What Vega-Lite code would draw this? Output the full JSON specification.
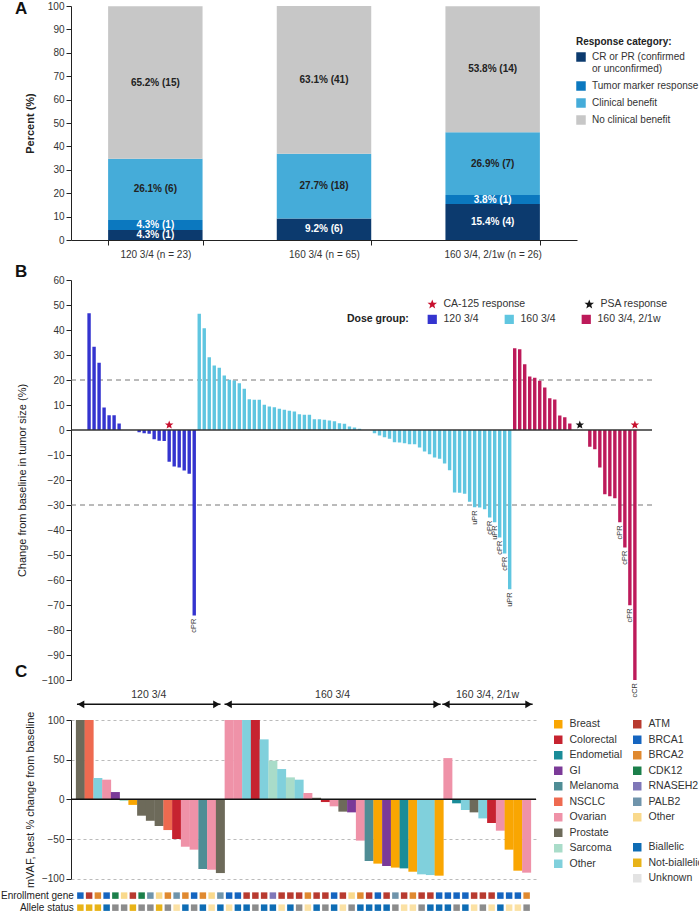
{
  "$schema": "https://vega.github.io/schema/vega-lite/v6.json",
  "background": "white",
  "padding": {"left": 0, "top": 0, "right": 0, "bottom": 0},
  "bounds": "flush",
  "spacing": 40,
  "config": {
    "font": "Liberation Sans",
    "view": {"stroke": null},
    "axis": {"labelFontSize": 10, "labelColor": "#333", "titleFontSize": 11, "titleColor": "#222", "titleFontWeight": "normal", "domainColor": "#222", "tickColor": "#222", "tickSize": 5, "grid": false, "labelOverlap": false},
    "legend": {"labelFontSize": 10, "labelColor": "#333", "titleFontSize": 10, "titleColor": "#222", "symbolStrokeWidth": 0, "symbolType": "square"},
    "title": {"fontSize": 17, "fontWeight": "bold", "color": "#111"}
  },
  "vconcat": [
    {
      "width": 506,
      "height": 234,
      "title": {"text": "A", "anchor": "start", "frame": "group", "dx": -56, "offset": 0, "dy": 17, "baseline": "top"},
      "data": {"values": [
        {"dose": "120 3/4 (n = 23)", "cat": "CR or PR (confirmed or unconfirmed)", "k": 1, "pct": 4.3, "label": "4.3% (1)"},
        {"dose": "120 3/4 (n = 23)", "cat": "Tumor marker response", "k": 2, "pct": 4.3, "label": "4.3% (1)"},
        {"dose": "120 3/4 (n = 23)", "cat": "Clinical benefit", "k": 3, "pct": 26.1, "label": "26.1% (6)"},
        {"dose": "120 3/4 (n = 23)", "cat": "No clinical benefit", "k": 4, "pct": 65.2, "label": "65.2% (15)"},
        {"dose": "160 3/4 (n = 65)", "cat": "CR or PR (confirmed or unconfirmed)", "k": 1, "pct": 9.2, "label": "9.2% (6)"},
        {"dose": "160 3/4 (n = 65)", "cat": "Tumor marker response", "k": 2, "pct": 0, "label": ""},
        {"dose": "160 3/4 (n = 65)", "cat": "Clinical benefit", "k": 3, "pct": 27.7, "label": "27.7% (18)"},
        {"dose": "160 3/4 (n = 65)", "cat": "No clinical benefit", "k": 4, "pct": 63.1, "label": "63.1% (41)"},
        {"dose": "160 3/4, 2/1w (n = 26)", "cat": "CR or PR (confirmed or unconfirmed)", "k": 1, "pct": 15.4, "label": "15.4% (4)"},
        {"dose": "160 3/4, 2/1w (n = 26)", "cat": "Tumor marker response", "k": 2, "pct": 3.8, "label": "3.8% (1)"},
        {"dose": "160 3/4, 2/1w (n = 26)", "cat": "Clinical benefit", "k": 3, "pct": 26.9, "label": "26.9% (7)"},
        {"dose": "160 3/4, 2/1w (n = 26)", "cat": "No clinical benefit", "k": 4, "pct": 53.8, "label": "53.8% (14)"}
      ]},
      "transform": [
        {"stack": "pct", "groupby": ["dose"], "sort": [{"field": "k", "order": "ascending"}], "as": ["y0", "y1"]},
        {"calculate": "(datum.y0 + datum.y1) / 2", "as": "ymid"}
      ],
      "layer": [
        {
          "mark": {"type": "bar"},
          "encoding": {
            "x": {"field": "dose", "type": "nominal", "sort": ["120 3/4 (n = 23)", "160 3/4 (n = 65)", "160 3/4, 2/1w (n = 26)"], "scale": {"paddingInner": 0.44, "paddingOuter": 0.22}, "axis": {"title": null, "labelAngle": 0, "tickBand": "extent", "labelPadding": 4}},
            "y": {"field": "y0", "type": "quantitative", "scale": {"domain": [0, 100], "nice": false}, "title": "Percent (%)", "axis": {"values": [0, 10, 20, 30, 40, 50, 60, 70, 80, 90, 100], "titleFontWeight": "bold", "titlePadding": 12}},
            "y2": {"field": "y1"},
            "color": {"field": "cat", "type": "nominal", "scale": {"domain": ["CR or PR (confirmed or unconfirmed)", "Tumor marker response", "Clinical benefit", "No clinical benefit"], "range": ["#0c3a6e", "#0b78bf", "#45acd9", "#c7c7c7"]},
              "legend": {"orient": "none", "legendX": 505, "legendY": 31, "title": "Response category:", "titleFontWeight": "bold", "symbolSize": 90, "rowPadding": 7, "labelOffset": 6, "labelExpr": "datum.label === 'CR or PR (confirmed or unconfirmed)' ? ['CR or PR (confirmed', 'or unconfirmed)'] : datum.label"}}
          }
        },
        {
          "transform": [{"filter": "datum.pct > 0"}],
          "mark": {"type": "text", "fontWeight": "bold", "fontSize": 10},
          "encoding": {
            "x": {"field": "dose", "type": "nominal", "sort": ["120 3/4 (n = 23)", "160 3/4 (n = 65)", "160 3/4, 2/1w (n = 26)"], "axis": {"title": null, "labelAngle": 0, "tickBand": "extent", "labelPadding": 4}},
            "y": {"field": "ymid", "type": "quantitative", "title": "Percent (%)", "axis": {"values": [0, 10, 20, 30, 40, 50, 60, 70, 80, 90, 100], "titleFontWeight": "bold", "titlePadding": 12}},
            "text": {"field": "label"},
            "color": {"condition": {"test": "datum.k <= 2", "value": "white"}, "value": "#222"}
          }
        }
      ]
    },
    {
      "width": 581,
      "height": 400,
      "title": {"text": "B", "anchor": "start", "frame": "group", "dx": -56, "offset": 0, "dy": 6, "baseline": "top"},
      "layer": [
        {
          "data": {"values": [{"ref": 20}, {"ref": -30}]},
          "mark": {"type": "rule", "strokeDash": [5, 4], "color": "#777", "strokeWidth": 1},
          "encoding": {"y": {"field": "ref", "type": "quantitative", "title": "Change from baseline in tumor size (%)", "axis": {"values": [-100, -90, -80, -70, -60, -50, -40, -30, -20, -10, 0, 10, 20, 30, 40, 50, 60], "titlePadding": 14}}}
        },
        {
          "data": {"name": "tumor"},
          "mark": {"type": "bar", "size": 3.4, "orient": "vertical"},
          "encoding": {
            "x": {"field": "slot", "type": "quantitative", "scale": {"domain": [-1.61, 112.42], "nice": false, "zero": false}, "axis": null},
            "y": {"field": "change", "type": "quantitative", "scale": {"domain": [-100, 60], "nice": false}, "title": "Change from baseline in tumor size (%)", "axis": {"values": [-100, -90, -80, -70, -60, -50, -40, -30, -20, -10, 0, 10, 20, 30, 40, 50, 60], "titlePadding": 14}},
            "color": {"field": "dose", "type": "nominal", "scale": {"domain": ["120 3/4", "160 3/4", "160 3/4, 2/1w"], "range": ["#3434cf", "#60c6e0", "#bd1a5a"]},
              "legend": {"orient": "none", "legendX": 276, "legendY": 34, "direction": "horizontal", "title": "Dose group:", "titleOrient": "left", "titleFontWeight": "bold", "titleFontSize": 10.5, "labelFontSize": 10.5, "titlePadding": 18, "symbolSize": 85, "columnPadding": 25, "labelOffset": 6}}
          }
        },
        {
          "data": {"name": "tumor"},
          "transform": [{"filter": "isValid(datum.label)"}],
          "mark": {"type": "text", "angle": 270, "align": "right", "baseline": "middle", "dx": -3, "fontSize": 7.5, "color": "#333"},
          "encoding": {
            "x": {"field": "slot", "type": "quantitative", "axis": null},
            "y": {"field": "change", "type": "quantitative", "title": "Change from baseline in tumor size (%)", "axis": {"values": [-100, -90, -80, -70, -60, -50, -40, -30, -20, -10, 0, 10, 20, 30, 40, 50, 60], "titlePadding": 14}},
            "text": {"field": "label"}
          }
        },
        {
          "data": {"values": [{"ref": 0}]},
          "mark": {"type": "rule", "color": "#333", "strokeWidth": 1.5},
          "encoding": {"y": {"field": "ref", "type": "quantitative", "title": "Change from baseline in tumor size (%)", "axis": {"values": [-100, -90, -80, -70, -60, -50, -40, -30, -20, -10, 0, 10, 20, 30, 40, 50, 60], "titlePadding": 14}}}
        },
        {
          "data": {"values": [
            {"slot": 17, "marker": "CA-125 response"},
            {"slot": 99, "marker": "PSA response"},
            {"slot": 110, "marker": "CA-125 response"}
          ]},
          "mark": {"type": "point", "shape": "M0,-1L0.247,-0.34L0.951,-0.309L0.399,0.13L0.588,0.809L0,0.42L-0.588,0.809L-0.399,0.13L-0.951,-0.309L-0.247,-0.34Z", "filled": true, "size": 80, "opacity": 1},
          "encoding": {
            "x": {"field": "slot", "type": "quantitative", "axis": null},
            "y": {"datum": 2, "type": "quantitative", "title": "Change from baseline in tumor size (%)", "axis": {"values": [-100, -90, -80, -70, -60, -50, -40, -30, -20, -10, 0, 10, 20, 30, 40, 50, 60], "titlePadding": 14}},
            "color": {"field": "marker", "type": "nominal", "scale": {"domain": ["CA-125 response", "PSA response"], "range": ["#c8102e", "#151515"]},
              "legend": {"orient": "none", "legendX": 356, "legendY": 19, "direction": "horizontal", "title": null, "symbolType": "M0,-1L0.247,-0.34L0.951,-0.309L0.399,0.13L0.588,0.809L0,0.42L-0.588,0.809L-0.399,0.13L-0.951,-0.309L-0.247,-0.34Z", "symbolSize": 100, "labelFontSize": 10.5, "columnPadding": 58, "labelOffset": 6}}
          }
        }
      ],
      "resolve": {"scale": {"color": "independent"}}
    },
    {
      "width": 465,
      "height": 158.7,
      "title": {"text": "C", "anchor": "start", "frame": "group", "dx": -56, "offset": 0, "dy": -9, "baseline": "top"},
      "layer": [
        {
          "data": {"name": "mvaf"},
          "mark": {"type": "bar", "size": 9, "orient": "vertical"},
          "encoding": {
            "x": {"field": "slot", "type": "quantitative", "scale": {"domain": [0.5, 52.5], "nice": false, "zero": false}, "axis": null},
            "y": {"field": "value", "type": "quantitative", "scale": {"domain": [-100, 100], "nice": false}, "title": "mVAF, best % change from baseline", "axis": {"values": [-100, -50, 0, 50, 100], "grid": true, "gridDash": [3, 3], "gridColor": "#bbb", "titlePadding": 6}},
            "color": {"field": "cancer", "type": "nominal", "scale": {"domain": ["Breast", "Colorectal", "Endometial", "GI", "Melanoma", "NSCLC", "Ovarian", "Prostate", "Sarcoma", "Other"], "range": ["#f9a602", "#c62330", "#1a8c98", "#7b3a98", "#4f8d95", "#ee6a50", "#ef92a8", "#6d6a5a", "#a9dcc9", "#80d0dc"]},
              "legend": {"orient": "none", "legendX": 482, "legendY": -1, "title": null, "symbolSize": 72, "labelFontSize": 10.5, "rowPadding": 4.5, "labelOffset": 6}}
          }
        },
        {
          "data": {"values": [{"ref": 0}]},
          "mark": {"type": "rule", "color": "#111", "strokeWidth": 1.5},
          "encoding": {"y": {"field": "ref", "type": "quantitative", "title": "mVAF, best % change from baseline", "axis": {"values": [-100, -50, 0, 50, 100], "grid": true, "gridDash": [3, 3], "gridColor": "#bbb", "titlePadding": 6}}}
        },
        {
          "data": {"name": "arrows"},
          "mark": {"type": "rule", "color": "#111", "strokeWidth": 1.5},
          "encoding": {
            "x": {"field": "start", "type": "quantitative", "axis": null},
            "x2": {"field": "end"},
            "y": {"datum": 119.7, "type": "quantitative", "title": "mVAF, best % change from baseline", "axis": {"values": [-100, -50, 0, 50, 100], "grid": true, "gridDash": [3, 3], "gridColor": "#bbb", "titlePadding": 6}}
          }
        },
        {
          "data": {"name": "arrows"},
          "mark": {"type": "point", "shape": "triangle-left", "filled": true, "size": 60, "color": "#111", "opacity": 1, "xOffset": 4},
          "encoding": {
            "x": {"field": "start", "type": "quantitative", "axis": null},
            "y": {"datum": 119.7, "type": "quantitative", "title": "mVAF, best % change from baseline", "axis": {"values": [-100, -50, 0, 50, 100], "grid": true, "gridDash": [3, 3], "gridColor": "#bbb", "titlePadding": 6}}
          }
        },
        {
          "data": {"name": "arrows"},
          "mark": {"type": "point", "shape": "triangle-right", "filled": true, "size": 60, "color": "#111", "opacity": 1, "xOffset": -4},
          "encoding": {
            "x": {"field": "end", "type": "quantitative", "axis": null},
            "y": {"datum": 119.7, "type": "quantitative", "title": "mVAF, best % change from baseline", "axis": {"values": [-100, -50, 0, 50, 100], "grid": true, "gridDash": [3, 3], "gridColor": "#bbb", "titlePadding": 6}}
          }
        },
        {
          "data": {"name": "arrows"},
          "transform": [
            {"fold": ["start", "end"], "as": ["edge", "pos"]},
            {"aggregate": [{"op": "mean", "field": "pos", "as": "mid"}], "groupby": ["group"]}
          ],
          "mark": {"type": "text", "fontSize": 10.5, "color": "#333", "baseline": "middle"},
          "encoding": {
            "x": {"field": "mid", "type": "quantitative", "axis": null},
            "y": {"datum": 131, "type": "quantitative", "title": "mVAF, best % change from baseline", "axis": {"values": [-100, -50, 0, 50, 100], "grid": true, "gridDash": [3, 3], "gridColor": "#bbb", "titlePadding": 6}},
            "text": {"field": "group"}
          }
        },
        {
          "data": {"name": "mvaf"},
          "mark": {"type": "square", "size": 42, "filled": true, "opacity": 1},
          "encoding": {
            "x": {"field": "slot", "type": "quantitative", "axis": null},
            "y": {"datum": -121.3, "type": "quantitative", "title": "mVAF, best % change from baseline", "axis": {"values": [-100, -50, 0, 50, 100], "grid": true, "gridDash": [3, 3], "gridColor": "#bbb", "titlePadding": 6}},
            "color": {"field": "gene", "type": "nominal", "scale": {"domain": ["ATM", "BRCA1", "BRCA2", "CDK12", "RNASEH2", "PALB2", "Other"], "range": ["#b83a2f", "#1565c0", "#e0892f", "#1b7f4a", "#7f77b8", "#6f94ab", "#f9d98c"]},
              "legend": {"orient": "none", "legendX": 561, "legendY": -1, "title": null, "symbolSize": 72, "labelFontSize": 10.5, "rowPadding": 4.5, "labelOffset": 6,
                "encode": {"labels": {"update": {"fontStyle": {"signal": "datum.label === 'Other' ? 'normal' : 'italic'"}}}}}}
          }
        },
        {
          "data": {"name": "mvaf"},
          "mark": {"type": "square", "size": 42, "filled": true, "opacity": 1},
          "encoding": {
            "x": {"field": "slot", "type": "quantitative", "axis": null},
            "y": {"datum": -136.5, "type": "quantitative", "title": "mVAF, best % change from baseline", "axis": {"values": [-100, -50, 0, 50, 100], "grid": true, "gridDash": [3, 3], "gridColor": "#bbb", "titlePadding": 6}},
            "color": {"field": "allele", "type": "nominal", "scale": {"domain": ["Biallelic", "Not-biallelic", "Unknown", "Not evaluable", "Not applicable"], "range": ["#0e6cb4", "#e8b318", "#e3e3e3", "#8c8c8c", "#fbe1a4"]},
              "legend": {"orient": "none", "legendX": 561, "legendY": 122, "title": null, "values": ["Biallelic", "Not-biallelic", "Unknown"], "symbolSize": 72, "labelFontSize": 10.5, "rowPadding": 4.5, "labelOffset": 6}}
          }
        },
        {
          "data": {"values": [{"row": "Enrollment gene"}]},
          "mark": {"type": "text", "align": "right", "baseline": "middle", "fontSize": 10, "color": "#222"},
          "encoding": {
            "x": {"datum": 0.25, "type": "quantitative", "axis": null},
            "y": {"datum": -121.3, "type": "quantitative", "title": "mVAF, best % change from baseline", "axis": {"values": [-100, -50, 0, 50, 100], "grid": true, "gridDash": [3, 3], "gridColor": "#bbb", "titlePadding": 6}},
            "text": {"field": "row"}
          }
        },
        {
          "data": {"values": [{"row": "Allele status"}]},
          "mark": {"type": "text", "align": "right", "baseline": "middle", "fontSize": 10, "color": "#222"},
          "encoding": {
            "x": {"datum": 0.25, "type": "quantitative", "axis": null},
            "y": {"datum": -136.5, "type": "quantitative", "title": "mVAF, best % change from baseline", "axis": {"values": [-100, -50, 0, 50, 100], "grid": true, "gridDash": [3, 3], "gridColor": "#bbb", "titlePadding": 6}},
            "text": {"field": "row"}
          }
        }
      ],
      "resolve": {"scale": {"color": "independent"}}
    }
  ],
  "datasets": {
    "arrows": [
      {"group": "120 3/4", "start": 0.61, "end": 17.02},
      {"group": "160 3/4", "start": 17.47, "end": 42.18},
      {"group": "160 3/4, 2/1w", "start": 42.36, "end": 52.69}
    ],
    "tumor": [
      {"slot": 1, "change": 46.7, "dose": "120 3/4"},
      {"slot": 2, "change": 33.3, "dose": "120 3/4"},
      {"slot": 3, "change": 26.9, "dose": "120 3/4"},
      {"slot": 4, "change": 9.0, "dose": "120 3/4"},
      {"slot": 5, "change": 5.9, "dose": "120 3/4"},
      {"slot": 6, "change": 5.9, "dose": "120 3/4"},
      {"slot": 7, "change": 2.6, "dose": "120 3/4"},
      {"slot": 8, "change": 0, "dose": "120 3/4"},
      {"slot": 9, "change": 0, "dose": "120 3/4"},
      {"slot": 10, "change": 0, "dose": "120 3/4"},
      {"slot": 11, "change": -0.9, "dose": "120 3/4"},
      {"slot": 12, "change": -1.3, "dose": "120 3/4"},
      {"slot": 13, "change": -1.5, "dose": "120 3/4"},
      {"slot": 14, "change": -3.7, "dose": "120 3/4"},
      {"slot": 15, "change": -4.3, "dose": "120 3/4"},
      {"slot": 16, "change": -4.4, "dose": "120 3/4"},
      {"slot": 17, "change": -12.7, "dose": "120 3/4"},
      {"slot": 18, "change": -14.6, "dose": "120 3/4"},
      {"slot": 19, "change": -15, "dose": "120 3/4"},
      {"slot": 20, "change": -16.2, "dose": "120 3/4"},
      {"slot": 21, "change": -17.5, "dose": "120 3/4"},
      {"slot": 22, "change": -74.2, "dose": "120 3/4", "label": "cPR"},
      {"slot": 23, "change": 46.5, "dose": "160 3/4"},
      {"slot": 24, "change": 40.7, "dose": "160 3/4"},
      {"slot": 25, "change": 29.1, "dose": "160 3/4"},
      {"slot": 26, "change": 25.8, "dose": "160 3/4"},
      {"slot": 27, "change": 24.9, "dose": "160 3/4"},
      {"slot": 28, "change": 21.8, "dose": "160 3/4"},
      {"slot": 29, "change": 20.1, "dose": "160 3/4"},
      {"slot": 30, "change": 19.8, "dose": "160 3/4"},
      {"slot": 31, "change": 18.7, "dose": "160 3/4"},
      {"slot": 32, "change": 16.5, "dose": "160 3/4"},
      {"slot": 33, "change": 12.3, "dose": "160 3/4"},
      {"slot": 34, "change": 12.1, "dose": "160 3/4"},
      {"slot": 35, "change": 12.1, "dose": "160 3/4"},
      {"slot": 36, "change": 10.1, "dose": "160 3/4"},
      {"slot": 37, "change": 9.4, "dose": "160 3/4"},
      {"slot": 38, "change": 9.1, "dose": "160 3/4"},
      {"slot": 39, "change": 8.5, "dose": "160 3/4"},
      {"slot": 40, "change": 8.1, "dose": "160 3/4"},
      {"slot": 41, "change": 7.7, "dose": "160 3/4"},
      {"slot": 42, "change": 7.4, "dose": "160 3/4"},
      {"slot": 43, "change": 6.3, "dose": "160 3/4"},
      {"slot": 44, "change": 6.1, "dose": "160 3/4"},
      {"slot": 45, "change": 6.1, "dose": "160 3/4"},
      {"slot": 46, "change": 4.3, "dose": "160 3/4"},
      {"slot": 47, "change": 4.3, "dose": "160 3/4"},
      {"slot": 48, "change": 4.1, "dose": "160 3/4"},
      {"slot": 49, "change": 3.8, "dose": "160 3/4"},
      {"slot": 50, "change": 3.5, "dose": "160 3/4"},
      {"slot": 51, "change": 2.7, "dose": "160 3/4"},
      {"slot": 52, "change": 2.5, "dose": "160 3/4"},
      {"slot": 53, "change": 1.4, "dose": "160 3/4"},
      {"slot": 54, "change": 1.0, "dose": "160 3/4"},
      {"slot": 55, "change": 0.5, "dose": "160 3/4"},
      {"slot": 56, "change": 0, "dose": "160 3/4"},
      {"slot": 57, "change": 0, "dose": "160 3/4"},
      {"slot": 58, "change": -1.3, "dose": "160 3/4"},
      {"slot": 59, "change": -2.2, "dose": "160 3/4"},
      {"slot": 60, "change": -2.9, "dose": "160 3/4"},
      {"slot": 61, "change": -3.5, "dose": "160 3/4"},
      {"slot": 62, "change": -4.9, "dose": "160 3/4"},
      {"slot": 63, "change": -5.0, "dose": "160 3/4"},
      {"slot": 64, "change": -5.3, "dose": "160 3/4"},
      {"slot": 65, "change": -5.7, "dose": "160 3/4"},
      {"slot": 66, "change": -5.7, "dose": "160 3/4"},
      {"slot": 67, "change": -7.0, "dose": "160 3/4"},
      {"slot": 68, "change": -8.6, "dose": "160 3/4"},
      {"slot": 69, "change": -9.7, "dose": "160 3/4"},
      {"slot": 70, "change": -11.0, "dose": "160 3/4"},
      {"slot": 71, "change": -11.5, "dose": "160 3/4"},
      {"slot": 72, "change": -13.4, "dose": "160 3/4"},
      {"slot": 73, "change": -16.1, "dose": "160 3/4"},
      {"slot": 74, "change": -25.0, "dose": "160 3/4"},
      {"slot": 75, "change": -25.1, "dose": "160 3/4"},
      {"slot": 76, "change": -25.5, "dose": "160 3/4"},
      {"slot": 77, "change": -28.7, "dose": "160 3/4"},
      {"slot": 78, "change": -30.9, "dose": "160 3/4", "label": "uPR"},
      {"slot": 79, "change": -31.0, "dose": "160 3/4"},
      {"slot": 80, "change": -31.7, "dose": "160 3/4"},
      {"slot": 81, "change": -35.0, "dose": "160 3/4", "label": "cPR"},
      {"slot": 82, "change": -36.9, "dose": "160 3/4", "label": "uPR"},
      {"slot": 83, "change": -43.0, "dose": "160 3/4", "label": "cPR"},
      {"slot": 84, "change": -49.4, "dose": "160 3/4", "label": "cPR"},
      {"slot": 85, "change": -63.7, "dose": "160 3/4", "label": "uPR"},
      {"slot": 86, "change": 32.7, "dose": "160 3/4, 2/1w"},
      {"slot": 87, "change": 32.3, "dose": "160 3/4, 2/1w"},
      {"slot": 88, "change": 26.3, "dose": "160 3/4, 2/1w"},
      {"slot": 89, "change": 21.4, "dose": "160 3/4, 2/1w"},
      {"slot": 90, "change": 20.9, "dose": "160 3/4, 2/1w"},
      {"slot": 91, "change": 19.7, "dose": "160 3/4, 2/1w"},
      {"slot": 92, "change": 17.0, "dose": "160 3/4, 2/1w"},
      {"slot": 93, "change": 12.7, "dose": "160 3/4, 2/1w"},
      {"slot": 94, "change": 12.2, "dose": "160 3/4, 2/1w"},
      {"slot": 95, "change": 5.8, "dose": "160 3/4, 2/1w"},
      {"slot": 96, "change": 5.1, "dose": "160 3/4, 2/1w"},
      {"slot": 97, "change": 2.6, "dose": "160 3/4, 2/1w"},
      {"slot": 98, "change": 0, "dose": "160 3/4, 2/1w"},
      {"slot": 99, "change": 0, "dose": "160 3/4, 2/1w"},
      {"slot": 100, "change": 0, "dose": "160 3/4, 2/1w"},
      {"slot": 101, "change": -6.7, "dose": "160 3/4, 2/1w"},
      {"slot": 102, "change": -7.7, "dose": "160 3/4, 2/1w"},
      {"slot": 103, "change": -15.0, "dose": "160 3/4, 2/1w"},
      {"slot": 104, "change": -25.7, "dose": "160 3/4, 2/1w"},
      {"slot": 105, "change": -26.5, "dose": "160 3/4, 2/1w"},
      {"slot": 106, "change": -27.3, "dose": "160 3/4, 2/1w"},
      {"slot": 107, "change": -36.9, "dose": "160 3/4, 2/1w", "label": "cPR"},
      {"slot": 108, "change": -47.0, "dose": "160 3/4, 2/1w", "label": "cPR"},
      {"slot": 109, "change": -70.1, "dose": "160 3/4, 2/1w", "label": "cPR"},
      {"slot": 110, "change": -100, "dose": "160 3/4, 2/1w", "label": "cCR"}
    ],
    "mvaf": [
      {"slot": 1, "value": 100, "cancer": "Prostate", "gene": "BRCA1", "allele": "Not-biallelic"},
      {"slot": 2, "value": 100, "cancer": "NSCLC", "gene": "ATM", "allele": "Not-biallelic"},
      {"slot": 3, "value": 26.9, "cancer": "Other", "gene": "BRCA2", "allele": "Not-biallelic"},
      {"slot": 4, "value": 24.8, "cancer": "Ovarian", "gene": "BRCA1", "allele": "Biallelic"},
      {"slot": 5, "value": 9.2, "cancer": "GI", "gene": "CDK12", "allele": "Not evaluable"},
      {"slot": 6, "value": -2, "cancer": "Sarcoma", "gene": "Other", "allele": "Not evaluable"},
      {"slot": 7, "value": -7, "cancer": "Breast", "gene": "ATM", "allele": "Not-biallelic"},
      {"slot": 8, "value": -20.6, "cancer": "Prostate", "gene": "CDK12", "allele": "Not evaluable"},
      {"slot": 9, "value": -27, "cancer": "Prostate", "gene": "PALB2", "allele": "Not evaluable"},
      {"slot": 10, "value": -33.6, "cancer": "Prostate", "gene": "Other", "allele": "Not-biallelic"},
      {"slot": 11, "value": -38.7, "cancer": "NSCLC", "gene": "BRCA2", "allele": "Not evaluable"},
      {"slot": 12, "value": -50, "cancer": "Colorectal", "gene": "PALB2", "allele": "Not applicable"},
      {"slot": 13, "value": -59.7, "cancer": "Ovarian", "gene": "BRCA2", "allele": "Biallelic"},
      {"slot": 14, "value": -63.4, "cancer": "Ovarian", "gene": "BRCA1", "allele": "Not evaluable"},
      {"slot": 15, "value": -87.8, "cancer": "Melanoma", "gene": "BRCA2", "allele": "Biallelic"},
      {"slot": 16, "value": -88.7, "cancer": "Ovarian", "gene": "Other", "allele": "Not applicable"},
      {"slot": 17, "value": -92.9, "cancer": "Prostate", "gene": "PALB2", "allele": "Biallelic"},
      {"slot": 18, "value": 100, "cancer": "Ovarian", "gene": "BRCA1", "allele": "Not applicable"},
      {"slot": 19, "value": 100, "cancer": "Ovarian", "gene": "BRCA1", "allele": "Biallelic"},
      {"slot": 20, "value": 100, "cancer": "Other", "gene": "ATM", "allele": "Biallelic"},
      {"slot": 21, "value": 100, "cancer": "Colorectal", "gene": "ATM", "allele": "Not evaluable"},
      {"slot": 22, "value": 75.6, "cancer": "Other", "gene": "ATM", "allele": "Biallelic"},
      {"slot": 23, "value": 48.7, "cancer": "Sarcoma", "gene": "RNASEH2", "allele": "Biallelic"},
      {"slot": 24, "value": 38.2, "cancer": "Other", "gene": "ATM", "allele": "Not applicable"},
      {"slot": 25, "value": 27.7, "cancer": "Sarcoma", "gene": "ATM", "allele": "Biallelic"},
      {"slot": 26, "value": 24.8, "cancer": "Other", "gene": "ATM", "allele": "Not evaluable"},
      {"slot": 27, "value": 8, "cancer": "Ovarian", "gene": "BRCA2", "allele": "Not applicable"},
      {"slot": 28, "value": 2, "cancer": "Prostate", "gene": "ATM", "allele": "Biallelic"},
      {"slot": 29, "value": -3.4, "cancer": "Colorectal", "gene": "ATM", "allele": "Not evaluable"},
      {"slot": 30, "value": -8.8, "cancer": "Ovarian", "gene": "BRCA1", "allele": "Biallelic"},
      {"slot": 31, "value": -15.5, "cancer": "Prostate", "gene": "ATM", "allele": "Not applicable"},
      {"slot": 32, "value": -16.4, "cancer": "GI", "gene": "Other", "allele": "Not evaluable"},
      {"slot": 33, "value": -52, "cancer": "Ovarian", "gene": "BRCA2", "allele": "Biallelic"},
      {"slot": 34, "value": -77.7, "cancer": "Melanoma", "gene": "ATM", "allele": "Biallelic"},
      {"slot": 35, "value": -81, "cancer": "Breast", "gene": "BRCA1", "allele": "Biallelic"},
      {"slot": 36, "value": -84, "cancer": "GI", "gene": "ATM", "allele": "Biallelic"},
      {"slot": 37, "value": -86, "cancer": "Breast", "gene": "PALB2", "allele": "Not evaluable"},
      {"slot": 38, "value": -87, "cancer": "Endometial", "gene": "ATM", "allele": "Not applicable"},
      {"slot": 39, "value": -91.2, "cancer": "Breast", "gene": "BRCA2", "allele": "Not applicable"},
      {"slot": 40, "value": -94.5, "cancer": "Other", "gene": "ATM", "allele": "Not evaluable"},
      {"slot": 41, "value": -95.4, "cancer": "Other", "gene": "ATM", "allele": "Biallelic"},
      {"slot": 42, "value": -96.2, "cancer": "Breast", "gene": "BRCA1", "allele": "Biallelic"},
      {"slot": 43, "value": 52, "cancer": "Ovarian", "gene": "BRCA1", "allele": "Biallelic"},
      {"slot": 44, "value": -5, "cancer": "Endometial", "gene": "BRCA1", "allele": "Not evaluable"},
      {"slot": 45, "value": -13.4, "cancer": "Other", "gene": "BRCA1", "allele": "Biallelic"},
      {"slot": 46, "value": -16.4, "cancer": "Prostate", "gene": "ATM", "allele": "Not applicable"},
      {"slot": 47, "value": -24, "cancer": "Other", "gene": "ATM", "allele": "Not evaluable"},
      {"slot": 48, "value": -29.8, "cancer": "Colorectal", "gene": "ATM", "allele": "Not applicable"},
      {"slot": 49, "value": -39.5, "cancer": "Ovarian", "gene": "BRCA1", "allele": "Biallelic"},
      {"slot": 50, "value": -63.4, "cancer": "Breast", "gene": "BRCA1", "allele": "Not applicable"},
      {"slot": 51, "value": -89.9, "cancer": "Breast", "gene": "BRCA1", "allele": "Not applicable"},
      {"slot": 52, "value": -92.4, "cancer": "Ovarian", "gene": "BRCA2", "allele": "Not evaluable"}
    ]
  }
}
